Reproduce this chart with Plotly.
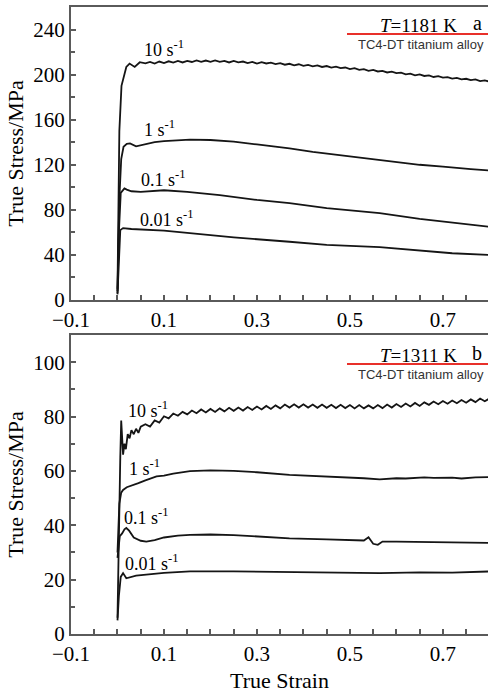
import plotly.graph_objects as go

# ---------------- data ----------------
# Panel a: T = 1181 K
a10_strain = [0.0, 0.004, 0.0086, 0.019, 0.026, 0.037, 0.048,
              0.06, 0.07, 0.08, 0.09, 0.10, 0.11, 0.12, 0.13, 0.14, 0.15, 0.16, 0.17, 0.18, 0.19,
              0.20, 0.21, 0.22, 0.23, 0.24, 0.25, 0.26, 0.27, 0.28, 0.29, 0.30, 0.31, 0.32, 0.33,
              0.34, 0.35, 0.36, 0.37, 0.38, 0.39, 0.40, 0.41, 0.42, 0.43, 0.44, 0.45, 0.46, 0.47,
              0.48, 0.49, 0.50, 0.51, 0.52, 0.53, 0.54, 0.55, 0.56, 0.57, 0.58, 0.59, 0.60, 0.61,
              0.62, 0.63, 0.64, 0.65, 0.66, 0.67, 0.68, 0.69, 0.70, 0.71, 0.72, 0.73, 0.74, 0.75,
              0.76, 0.77, 0.78, 0.79, 0.80]
a10_stress = [10, 150, 190, 206.8, 209.8, 206.8, 211,
              210, 211.2, 209.8, 211.6, 210.3, 211.8, 210.6, 212.1, 210.8, 212.2, 211.2, 212.6, 211.3, 212.5,
              211.4, 212.6, 211.3, 212.2, 210.8, 212.1, 210.9, 211.6, 210.3, 211.2, 209.8, 211.0, 209.9, 210.6,
              209.3, 210.2, 208.8, 209.6, 208.3, 209.2, 207.8, 208.6, 207.3, 208.2, 206.8, 207.6, 206.3, 207.1,
              205.7, 206.3, 204.9, 205.7, 204.3, 204.8, 203.4, 204.2, 202.8, 203.3, 201.9, 202.7, 201.3, 201.7,
              200.3, 200.8, 199.3, 200.2, 198.8, 199.3, 197.9, 198.6, 197.3, 197.8, 196.4, 197.1, 195.8, 196.3,
              195.2, 195.7, 194.3, 194.8, 193.8]

a1_strain = [0.0, 0.004, 0.008, 0.013, 0.02, 0.027, 0.04, 0.06, 0.08, 0.10, 0.13, 0.156, 0.2,
             0.25, 0.3, 0.37, 0.42, 0.45, 0.5, 0.53, 0.564, 0.6, 0.65, 0.7, 0.72, 0.76, 0.8]
a1_stress = [8, 90, 125, 136, 138.5, 139, 136.4, 138.5, 140, 141, 142, 142.3, 142,
             140.5, 138, 134.6, 131.5, 130, 127.2, 125.5, 124, 122.2, 120, 118.3, 117.5, 116.2, 115]

a01_strain = [0.0, 0.003, 0.007, 0.015, 0.02, 0.03, 0.05, 0.08, 0.10, 0.15, 0.22, 0.3, 0.37,
              0.45, 0.5, 0.564, 0.65, 0.72, 0.8]
a01_stress = [6, 60, 95, 99, 98, 96.5, 96, 97, 97.4, 96, 93, 88.8, 86,
              81.5, 79.3, 77, 72, 68.5, 65]

a001_strain = [0.0, 0.003, 0.006, 0.012, 0.03, 0.1, 0.156, 0.25, 0.37, 0.45, 0.564, 0.65, 0.72, 0.8]
a001_stress = [5, 40, 62, 63.8, 63, 61.5, 59.4, 55.5, 51.7, 49, 47, 44, 41.5, 40]

# Panel b: T = 1311 K
b10_strain = [0.0, 0.003, 0.006, 0.008, 0.01, 0.012, 0.015, 0.018, 0.022, 0.026, 0.03, 0.035,
              0.04, 0.045, 0.05,
              0.06, 0.07, 0.08, 0.09, 0.10, 0.11, 0.12, 0.13, 0.14, 0.15, 0.16, 0.17, 0.18, 0.19,
              0.20, 0.21, 0.22, 0.23, 0.24, 0.25, 0.26, 0.27, 0.28, 0.29, 0.30, 0.31, 0.32, 0.33,
              0.34, 0.35, 0.36, 0.37, 0.38, 0.39, 0.40, 0.41, 0.42, 0.43, 0.44, 0.45, 0.46, 0.47,
              0.48, 0.49, 0.50, 0.51, 0.52, 0.53, 0.54, 0.55, 0.56, 0.57, 0.58, 0.59, 0.60, 0.61,
              0.62, 0.63, 0.64, 0.65, 0.66, 0.67, 0.68, 0.69, 0.70, 0.71, 0.72, 0.73, 0.74, 0.75,
              0.76, 0.77, 0.78, 0.79, 0.80]
b10_stress = [6, 40, 65, 78.5, 72, 66, 70, 68, 73.5, 72, 75, 73.5,
              75.5, 74, 76.3,
              77.2, 76.3, 78.6, 77.8, 80.1, 79.3, 81.1, 80.3, 81.7, 80.8, 82.2, 81.2, 82.6, 81.5,
              82.8, 81.7, 83.0, 81.9, 83.2, 82.1, 83.3, 82.2, 83.5, 82.4, 83.7, 82.6, 83.9, 82.8,
              84.1, 83.0, 84.4, 83.3, 84.5, 83.3, 84.5, 83.3, 84.4, 83.2, 84.4, 83.2, 84.3, 83.1,
              84.3, 83.1, 84.2, 83.0, 84.2, 83.0, 84.1, 83.0, 84.2, 83.1, 84.4, 83.3, 84.6, 83.5,
              84.8, 83.7, 85.0, 83.9, 85.2, 84.3, 85.5, 84.5, 85.7, 84.7, 85.9, 84.9, 86.1, 85.1,
              86.3, 85.3, 86.6, 85.6, 86.6]

b1_strain = [0.0, 0.004, 0.008, 0.012, 0.02, 0.034, 0.045, 0.06, 0.084, 0.1, 0.12, 0.156, 0.2,
             0.25, 0.3, 0.37, 0.42, 0.45, 0.5, 0.53, 0.564, 0.6, 0.62, 0.66, 0.68, 0.72, 0.74,
             0.77, 0.8]
b1_stress = [30, 48, 52, 53, 54, 55, 55.5, 56.5, 58, 58.3, 59, 59.9, 60.2,
             60, 59.5, 58.5, 58.2, 57.8, 57.5, 57.3, 56.9, 57.3, 57.2, 57.6, 57.4, 57.5, 57.2,
             57.6, 57.7]

b01_strain = [0.0, 0.005, 0.01, 0.015, 0.019, 0.025, 0.035, 0.05, 0.062, 0.08, 0.1, 0.13,
              0.156, 0.2, 0.25, 0.3, 0.37, 0.45, 0.5, 0.53, 0.54, 0.55, 0.56, 0.57, 0.6, 0.7, 0.8]
b01_stress = [28, 36, 37, 38.5, 39, 38, 35.5, 34.3, 34, 34.5, 35.5, 36.2,
              36.5, 36.6, 36.4, 35.9, 35.2, 34.8, 34.6, 34.4, 35.6, 33.2, 32.8, 34, 34, 33.8, 33.5]

b001_strain = [0.0, 0.003, 0.007, 0.012, 0.019, 0.04, 0.1, 0.156, 0.25, 0.37, 0.45, 0.564,
               0.65, 0.72, 0.8]
b001_stress = [5, 14, 21, 22.4, 20.5, 21.5, 22.5, 23, 23, 22.7, 22.5, 22.4, 22.7, 22.6, 23]

rate_labels = ["10 s<sup>-1</sup>", "1 s<sup>-1</sup>", "0.1 s<sup>-1</sup>", "0.01 s<sup>-1</sup>"]
a_label_pos = [(0.052, 223), (0.052, 152.5), (0.046, 108), (0.044, 72.7)]
b_label_pos = [(0.018, 82.7), (0.020, 61.3), (0.009, 43.2), (0.011, 26.2)]
x_tick_vals = [-0.1, 0.1, 0.3, 0.5, 0.7]
x_tick_text = ["\u22120.1", "0.1", "0.3", "0.5", "0.7"]
temps = ["<i>T</i>=1181 K", "<i>T</i>=1311 K"]
panel_letters = ["a", "b"]
alloy = "TC4-DT titanium alloy"

# ---------------- figure ----------------
SERIF = "Liberation Serif, Times New Roman, serif"
SANS = "Liberation Sans, Arial, sans-serif"
LINE = dict(color="#151515", width=1.8)
W, H = 488, 693
ML, MR, MT, MB = 71, 0, 7, 59
PW, PH = W - ML - MR, H - MT - MB

fig = go.Figure()
for xs, ys in [(a10_strain, a10_stress), (a1_strain, a1_stress),
               (a01_strain, a01_stress), (a001_strain, a001_stress)]:
    fig.add_trace(go.Scatter(x=xs, y=ys, mode="lines", line=LINE, xaxis="x", yaxis="y",
                             showlegend=False))
for xs, ys in [(b10_strain, b10_stress), (b1_strain, b1_stress),
               (b01_strain, b01_stress), (b001_strain, b001_stress)]:
    fig.add_trace(go.Scatter(x=xs, y=ys, mode="lines", line=LINE, xaxis="x2", yaxis="y2",
                             showlegend=False))

axis_common = dict(showgrid=False, zeroline=False, showline=True, linecolor="#5a5a5a",
                   linewidth=2, ticks="inside", ticklen=5, tickwidth=1.5, tickcolor="#5a5a5a",
                   tickfont=dict(family=SERIF, size=21, color="black"))

xcommon = dict(axis_common, range=[-0.1, 0.797], tickvals=x_tick_vals, ticktext=x_tick_text,
               mirror=True,
               minor=dict(dtick=0.05, tick0=-0.1, ticks="inside", ticklen=5,
                          tickcolor="#5a5a5a", tickwidth=1.5))

fig.update_layout(
    width=W, height=H,
    margin=dict(l=ML, r=MR, t=MT, b=MB),
    paper_bgcolor="white", plot_bgcolor="white",
    xaxis=dict(xcommon, domain=[0, 1], anchor="y"),
    yaxis=dict(axis_common, domain=[0.5327, 1], range=[0, 260], dtick=40, tick0=0,
               anchor="x",
               minor=dict(dtick=20, ticks="inside", ticklen=4, tickcolor="#5a5a5a", tickwidth=1.5),
               title=dict(text="True Stress/MPa", font=dict(family=SERIF, size=22, color="black"),
                          standoff=4)),
    xaxis2=dict(xcommon, domain=[0, 1], anchor="y2",
                title=dict(text="True Strain", font=dict(family=SERIF, size=22, color="black"),
                           standoff=10)),
    yaxis2=dict(axis_common, domain=[0, 0.4769], range=[0, 110], dtick=20, tick0=0,
                anchor="x2",
                minor=dict(dtick=10, ticks="inside", ticklen=4, tickcolor="#5a5a5a", tickwidth=1.5),
                title=dict(text="True Stress/MPa", font=dict(family=SERIF, size=22, color="black"),
                           standoff=4)),
)

# curve labels
for txt, (x, y) in zip(rate_labels, a_label_pos):
    fig.add_annotation(x=x, y=y, xref="x", yref="y", text=txt, showarrow=False,
                       xanchor="left", yanchor="middle",
                       font=dict(family=SERIF, size=18, color="black"))
for txt, (x, y) in zip(rate_labels, b_label_pos):
    fig.add_annotation(x=x, y=y, xref="x2", yref="y2", text=txt, showarrow=False,
                       xanchor="left", yanchor="middle",
                       font=dict(family=SERIF, size=18, color="black"))


def px(xp):
    return (xp - ML) / PW


def py(yp):
    return (H - yp - MB) / PH


# legend boxes (temperature, red rule, alloy name, panel letter)
for i, off in enumerate([0, 330]):
    fig.add_annotation(x=px(459), y=py(25 + off), xref="paper", yref="paper", text=temps[i],
                       showarrow=False, xanchor="right", yanchor="middle",
                       font=dict(family=SERIF, size=19, color="black"))
    fig.add_annotation(x=px(484), y=py(23 + off), xref="paper", yref="paper",
                       text=panel_letters[i], showarrow=False, xanchor="right", yanchor="middle",
                       font=dict(family=SERIF, size=20, color="black"))
    fig.add_annotation(x=px(486), y=py(44 + off), xref="paper", yref="paper", text=alloy,
                       showarrow=False, xanchor="right", yanchor="middle",
                       font=dict(family=SANS, size=13, color="#333333"))
    fig.add_shape(type="line", xref="paper", yref="paper",
                  x0=px(347), x1=1.0, y0=py(34 + off), y1=py(34 + off),
                  line=dict(color="#e8302a", width=2))

fig.write_html("out.html", config={"displayModeBar": False},
               post_script="document.body.style.margin='0';document.body.style.overflow='hidden';")
